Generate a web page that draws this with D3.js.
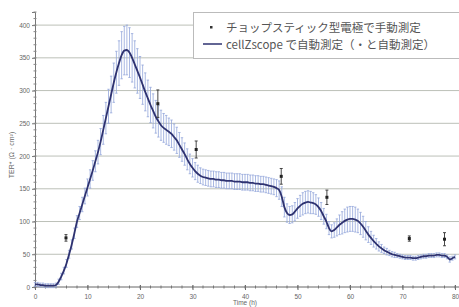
<!DOCTYPE html>
<html>
<head>
<meta charset="utf-8">
<script src="https://cdn.jsdelivr.net/npm/d3@7"></script>
<style>
  body { margin: 0; background: #fff; }
  svg { display: block; }
</style>
</head>
<body>
<svg id="chart"></svg>
<script>
// cellZscope 自動測定 (0.5h ごと)
const timeStep = 0.5
const autoValues = [
  4, 4, 3, 3, 2, 2, 2, 2, 3, 8,
  16, 25, 36, 50, 65, 82, 100, 113, 126, 139,
  152, 165, 178, 192, 206, 222, 240, 258, 276, 294,
  312, 328, 342, 354, 361, 362, 358, 350, 340, 330,
  320, 309, 298, 288, 278, 269, 260, 253, 247, 243,
  240, 237, 234, 229, 224, 217, 210, 203, 195, 188,
  182, 177, 173, 170, 168, 167, 166, 165, 165, 164,
  164, 163, 163, 162, 162, 162, 161, 161, 161, 160,
  160, 160, 159, 159, 158, 158, 157, 157, 156, 155,
  154, 153, 151, 148, 138, 122, 113, 110, 111, 115,
  120, 124, 127, 129, 130, 129, 128, 126, 122, 116,
  108, 100, 90, 85, 87, 91, 95, 98, 101, 103,
  104, 104, 103, 101, 97, 92, 86, 80, 75, 70,
  66, 62, 59, 56, 54, 52, 50, 49, 48, 47,
  46, 45, 45, 45, 44, 44, 45, 46, 47, 47,
  48, 48, 48, 49, 49, 48, 48, 46, 42, 44,
  46
]
const autoErrors = [
  3, 3, 3, 3, 3, 3, 3, 3, 3, 4,
  5, 5, 6, 6, 7, 8, 9, 10, 11, 12,
  13, 14, 15, 16, 18, 20, 22, 24, 26, 28,
  30, 32, 34, 36, 37, 38, 38, 37, 36, 34,
  32, 30, 29, 28, 27, 26, 25, 24, 23, 22,
  22, 21, 21, 20, 20, 19, 18, 17, 16, 15,
  14, 13, 13, 12, 12, 12, 12, 12, 12, 12,
  12, 12, 12, 12, 12, 12, 12, 12, 12, 12,
  12, 12, 12, 12, 12, 12, 12, 12, 12, 12,
  12, 12, 13, 14, 15, 15, 14, 13, 13, 14,
  15, 16, 17, 17, 17, 17, 16, 15, 14, 13,
  12, 11, 10, 10, 11, 13, 15, 17, 18, 19,
  19, 19, 19, 18, 17, 16, 14, 12, 10, 9,
  8, 7, 6, 5, 5, 4, 4, 4, 3, 3,
  3, 3, 3, 3, 3, 3, 3, 3, 3, 3,
  3, 3, 3, 3, 3, 3, 3, 3, 4, 3,
  3
]
// チョップスティック型電極で手動測定
const manualTimes = [5.9, 23.4, 30.7, 46.9, 55.6, 71.3, 78.0]
const manualValues = [75, 280, 210, 169, 137, 74, 73]
const manualErrors = [5, 21, 13, 12, 11, 4, 10]

const yTicks = [0, 50, 100, 150, 200, 250, 300, 350, 400]
const xTicks = [0, 10, 20, 30, 40, 50, 60, 70, 80]
const legendLabels = ['チョップスティック型電極で手動測定', 'cellZscope で自動測定（・と自動測定）']

const [width, height] = [459, 307]

let svg = d3.select('#chart')
  .attr('width', width)
  .attr('height', height)

let x = d3.scaleLinear().domain([0, 80]).range([35, 455])
let y = d3.scaleLinear().domain([0, 420]).range([287, 12])

let autoData = autoValues.map(function(v, i) {
  return { t: i * timeStep, v: v, e: autoErrors[i] }
})
let manualData = manualTimes.map(function(t, i) {
  return { t: t, v: manualValues[i], e: manualErrors[i] }
})

// grid
svg.append('g')
  .selectAll('line')
  .data(yTicks.filter(d => d > 0))
  .enter()
  .append('line')
  .attr('x1', 35)
  .attr('x2', width)
  .attr('y1', d => y(d))
  .attr('y2', d => y(d))
  .attr('stroke', '#bcc0b8')
  .attr('stroke-width', 1)

// y axis
let yAxis = svg.append('g')
  .attr('transform', 'translate(35,0)')
  .call(d3.axisLeft(y).tickValues(yTicks).tickSize(3).tickPadding(2))
yAxis.select('.domain').attr('stroke', '#777')
yAxis.selectAll('.tick line').attr('stroke', '#777')
yAxis.selectAll('text')
  .attr('fill', '#666')
  .style('font-family', 'Liberation Sans, Arial, sans-serif')
  .style('font-size', '6.5px')
yAxis.append('g')
  .selectAll('line')
  .data(d3.range(0, 421, 10))
  .enter()
  .append('line')
  .attr('x1', -1.5)
  .attr('x2', 1.5)
  .attr('y1', d => y(d))
  .attr('y2', d => y(d))
  .attr('stroke', '#888')

// x axis
let xAxis = svg.append('g')
  .attr('transform', 'translate(0,287)')
  .call(d3.axisBottom(x).tickValues(xTicks).tickSize(3).tickPadding(4))
xAxis.select('.domain').attr('stroke', '#666').attr('d', 'M35,0H' + width)
xAxis.selectAll('.tick line').attr('stroke', '#666').attr('y1', -2)
xAxis.selectAll('text')
  .attr('fill', '#666')
  .style('font-family', 'Liberation Sans, Arial, sans-serif')
  .style('font-size', '6.5px')
xAxis.append('g')
  .selectAll('line')
  .data(d3.range(0, 81, 2))
  .enter()
  .append('line')
  .attr('x1', d => x(d))
  .attr('x2', d => x(d))
  .attr('y1', -1.5)
  .attr('y2', 1.5)
  .attr('stroke', '#777')

// axis titles
svg.append('text')
  .attr('transform', 'translate(14,155) rotate(-90)')
  .attr('text-anchor', 'middle')
  .attr('fill', '#666')
  .style('font-family', 'Liberation Sans, Arial, sans-serif')
  .style('font-size', '7px')
  .text('TER* (Ω · cm²)')
svg.append('text')
  .attr('x', x(40))
  .attr('y', 304.5)
  .attr('text-anchor', 'middle')
  .attr('fill', '#666')
  .style('font-family', 'Liberation Sans, Arial, sans-serif')
  .style('font-size', '6.5px')
  .text('Time (h)')

// automatic error bars
let errG = svg.append('g')
  .attr('stroke', '#93a6da')
  .attr('stroke-width', 0.8)
  .attr('fill', 'none')
errG.selectAll('path')
  .data(autoData)
  .enter()
  .append('path')
  .attr('d', function(d) {
    let cx = x(d.t), y0 = y(d.v - d.e), y1 = y(d.v + d.e)
    return 'M' + cx + ',' + y0 + 'V' + y1 +
      'M' + (cx - 1.2) + ',' + y0 + 'H' + (cx + 1.2) +
      'M' + (cx - 1.2) + ',' + y1 + 'H' + (cx + 1.2)
  })

// automatic line
svg.append('path')
  .datum(autoData)
  .attr('fill', 'none')
  .attr('stroke', '#2e3270')
  .attr('stroke-width', 1.8)
  .attr('stroke-linejoin', 'round')
  .attr('d', d3.line()
    .x(d => x(d.t))
    .y(d => y(d.v))
    .curve(d3.curveMonotoneX))

// manual points
let manG = svg.append('g')
manG.selectAll('path')
  .data(manualData)
  .enter()
  .append('path')
  .attr('fill', 'none')
  .attr('stroke', '#333')
  .attr('stroke-width', 0.9)
  .attr('d', function(d) {
    let cx = x(d.t), y0 = y(d.v - d.e), y1 = y(d.v + d.e)
    return 'M' + cx + ',' + y0 + 'V' + y1 +
      'M' + (cx - 1.5) + ',' + y0 + 'H' + (cx + 1.5) +
      'M' + (cx - 1.5) + ',' + y1 + 'H' + (cx + 1.5)
  })
manG.selectAll('rect')
  .data(manualData)
  .enter()
  .append('rect')
  .attr('x', d => x(d.t) - 1.5)
  .attr('y', d => y(d.v) - 1.5)
  .attr('width', 3)
  .attr('height', 3)
  .attr('fill', '#222')

// legend
let legend = svg.append('g')
legend.append('rect')
  .attr('x', 193.5)
  .attr('y', 12.5)
  .attr('width', 270)
  .attr('height', 46)
  .attr('fill', '#fff')
  .attr('stroke', '#bbb')
legend.append('rect')
  .attr('x', 210)
  .attr('y', 26)
  .attr('width', 2.5)
  .attr('height', 2.5)
  .attr('fill', '#333')
legend.append('line')
  .attr('x1', 203)
  .attr('x2', 222)
  .attr('y1', 44)
  .attr('y2', 44)
  .attr('stroke', '#2e3270')
  .attr('stroke-width', 1.5)
legend.selectAll('text')
  .data(legendLabels)
  .enter()
  .append('text')
  .attr('x', 226)
  .attr('y', (d, i) => 32 + i * 17)
  .attr('fill', '#555')
  .style('font-family', 'Noto Sans CJK JP, sans-serif')
  .style('font-size', '11.5px')
  .text(d => d)
</script>
</body>
</html>
